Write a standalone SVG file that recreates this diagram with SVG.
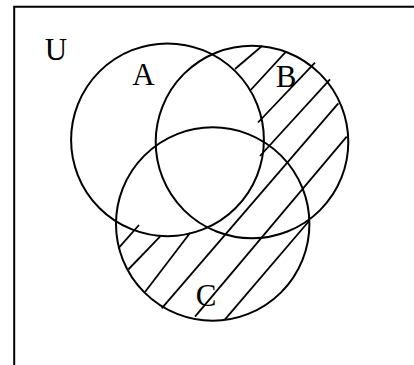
<svg xmlns="http://www.w3.org/2000/svg" width="414" height="365" viewBox="0 0 414 365">
<style>
.o{fill:none;stroke:#000;stroke-width:2}
.h{stroke:#000;stroke-width:1.8;stroke-linecap:butt}
.t{font-family:"Liberation Serif","Times New Roman",serif;font-size:31px;fill:#000;text-anchor:middle}
</style>
<rect width="414" height="365" fill="#fff"/>
<path class="o" d="M14.2,365 V6.7 H414"/>
<g id="hatch">
<line class="h" x1="235" y1="69" x2="262.3" y2="45.7"/>
<line class="h" x1="250.7" y1="90" x2="286" y2="51.7"/>
<line class="h" x1="258" y1="122.5" x2="315" y2="62.7"/>
<line class="h" x1="260" y1="156" x2="330" y2="79.3"/>
<line class="h" x1="161.7" y1="308.3" x2="338.3" y2="103.3"/>
<line class="h" x1="195" y1="316.7" x2="346.7" y2="136.7"/>
<line class="h" x1="225" y1="319.3" x2="309.5" y2="220.5"/>
<line class="h" x1="118.3" y1="248.3" x2="139" y2="225"/>
<line class="h" x1="128.3" y1="269.5" x2="160" y2="236.7"/>
<line class="h" x1="145" y1="292" x2="190" y2="233"/>
</g>
<g id="A"><circle class="o" cx="167.5" cy="139.8" r="96.4"/><text class="t" x="143.5" y="84.5">A</text></g>
<g id="B"><circle class="o" cx="252" cy="142" r="96.3"/><text class="t" x="286" y="86.7">B</text></g>
<g id="C"><circle class="o" cx="212.7" cy="224" r="96.7"/><text class="t" x="206" y="305.7">C</text></g>
<g id="U"><text class="t" x="56" y="60.2">U</text></g>
</svg>
